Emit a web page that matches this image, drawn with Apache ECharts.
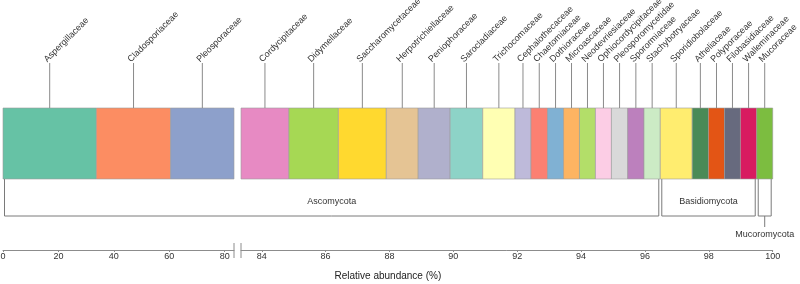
<!DOCTYPE html>
<html>
<head>
<meta charset="utf-8">
<script src="https://cdn.jsdelivr.net/npm/echarts@6/dist/echarts.min.js"></script>
<style>
html,body{margin:0;padding:0;background:#fff}
#chart{width:800px;height:284px}
</style>
</head>
<body>
<div id="chart"></div>
<script>
const families = [
    'Aspergillaceae','Cladosporiaceae','Pleosporaceae',
    'Cordycipitaceae','Didymellaceae','Saccharomycetaceae','Herpotrichiellaceae','Peniophoraceae',
    'Sarocladiaceae','Trichocomaceae','Cephalothecaceae','Chaetomiaceae','Dothioraceae',
    'Microascaceae','Neodevriesiaceae','Ophiocordycipitaceae','Pleosporomycetidae','Sporormiaceae',
    'Stachybotryaceae','Sporidiobolaceae','Atheliaceae','Polyporaceae','Filobasidiaceae',
    'Walleminaceae','Mucoraceae'
]
const abundance = [
    33.7, 26.8, 22.85,
    1.5, 1.55, 1.5, 1.0, 1.0,
    1.02, 1.01, 0.5, 0.52, 0.5,
    0.5, 0.5, 0.5, 0.51, 0.51,
    0.51, 1.0, 0.51, 0.5, 0.5,
    0.51, 0.5
]
const phylum = [
    'Ascomycota','Ascomycota','Ascomycota',
    'Ascomycota','Ascomycota','Ascomycota','Ascomycota','Ascomycota',
    'Ascomycota','Ascomycota','Ascomycota','Ascomycota','Ascomycota',
    'Ascomycota','Ascomycota','Ascomycota','Ascomycota','Ascomycota',
    'Ascomycota','Basidiomycota','Basidiomycota','Basidiomycota','Basidiomycota',
    'Basidiomycota','Mucoromycota'
]
const phylumNames = ['Ascomycota','Basidiomycota','Mucoromycota']
const leftTicks = [0,20,40,60,80]
const rightTicks = [84,86,88,90,92,94,96,98,100]
// how many families sit in the left (compressed) panel
const leftCount = 3

const palette = [
    '#66C2A5','#FC8D62','#8DA0CB',
    '#E78AC3','#A6D854','#FFD92F','#E5C494','#B0B0CC',
    '#8DD3C7','#FFFFB3','#BEBADA','#FB8072','#80B1D3',
    '#FDB462','#B3DE69','#FCCDE5','#D9D9D9','#BC80BD',
    '#CCEBC5','#FFED6F','#4A8A57','#E35515','#676A7E',
    '#D81B60','#7CBD40'
]
const font = 'Liberation Sans, Arial, sans-serif'

// cumulative start/end for every family
let acc = 0
const segments = abundance.map((v,i)=>{
    const s = acc
    acc += v
    return [s, acc, i]
})
const breakAt = segments[leftCount-1][1]

const chart = echarts.init(document.getElementById('chart'))

function renderSeg(params, api){
    const start = api.value(0)
    const end = api.value(1)
    const idx = api.value(2)
    const p0 = api.coord([start, 1])
    const p1 = api.coord([end, 0])
    const mid = (p0[0] + p1[0]) / 2
    const top = p0[1]
    return {
        type:'group',
        children:[
            {
                type:'rect',
                shape:{x:p0[0], y:top, width:p1[0]-p0[0], height:p1[1]-top},
                style:{fill:palette[idx], stroke:'#9a9a9a', lineWidth:0.6}
            },
            {
                type:'line',
                shape:{x1:mid, y1:top, x2:mid, y2:top-45},
                style:{stroke:'#8a8a8a', lineWidth:1}
            },
            {
                type:'text',
                x:mid-1, y:top-44,
                rotation:Math.PI/4,
                style:{text:families[idx], fontSize:9, fontFamily:font, fill:'#333', align:'left', verticalAlign:'bottom'}
            }
        ]
    }
}

function xAxisOf(grid, min, max, ticks){
    return {
        gridIndex:grid,
        type:'value',
        min:min,
        max:max,
        offset:71,
        position:'bottom',
        axisLine:{onZero:false, lineStyle:{color:'#8c8c8c', width:1}},
        axisTick:{show:true, length:2, customValues:ticks, lineStyle:{color:'#8c8c8c'}},
        axisLabel:{customValues:ticks, fontSize:9, color:'#333', margin:2, fontFamily:font},
        splitLine:{show:false}
    }
}

const option = {
    animation:false,
    grid:[
        {left:3, top:108, width:231, height:71, outerBoundsMode:'none', containLabel:false},
        {left:241, top:108, width:531.7, height:71, outerBoundsMode:'none', containLabel:false}
    ],
    xAxis:[
        xAxisOf(0, 0, breakAt, leftTicks),
        xAxisOf(1, breakAt, 100, rightTicks)
    ],
    yAxis:[
        {gridIndex:0, type:'value', min:0, max:1, show:false},
        {gridIndex:1, type:'value', min:0, max:1, show:false}
    ],
    series:[
        {
            type:'custom', xAxisIndex:0, yAxisIndex:0,
            renderItem:renderSeg, clip:false,
            data:segments.slice(0, leftCount)
        },
        {
            type:'custom', xAxisIndex:1, yAxisIndex:1,
            renderItem:renderSeg, clip:false,
            data:segments.slice(leftCount)
        }
    ]
}
chart.setOption(option)

// brackets, axis break marks and axis title, placed through the axes
const px = (v, isStart) => {
    const useLeft = isStart ? v < breakAt : v <= breakAt
    return chart.convertToPixel({xAxisIndex: useLeft ? 0 : 1}, v)
}
const barBottom = chart.convertToPixel({yAxisIndex:0}, 0)
const bracketY = barBottom + 37
const axisY = barBottom + 71
const graphics = []

phylumNames.forEach(name=>{
    const idx = segments.filter(s => phylum[s[2]] === name)
    const x0 = px(idx[0][0], true) + 1.5
    const x1 = px(idx[idx.length-1][1], false) - 1.5
    graphics.push({
        type:'polyline',
        shape:{points:[[x0, barBottom],[x0, bracketY],[x1, bracketY],[x1, barBottom]]},
        style:{stroke:'#7a7a7a', lineWidth:1, fill:null}
    })
    const cx = (x0 + x1) / 2
    if(x1 - x0 > 60){
        graphics.push({
            type:'text', x:cx, y:bracketY-14,
            style:{text:name, fontSize:9, fontFamily:font, fill:'#333', align:'center', verticalAlign:'middle'}
        })
    }else{
        graphics.push({
            type:'line',
            shape:{x1:cx, y1:bracketY, x2:cx, y2:bracketY+11},
            style:{stroke:'#7a7a7a', lineWidth:1}
        })
        graphics.push({
            type:'text', x:cx, y:bracketY+19,
            style:{text:name, fontSize:9, fontFamily:font, fill:'#333', align:'center', verticalAlign:'middle'}
        })
    }
})

const breakLeft = chart.convertToPixel({xAxisIndex:0}, breakAt)
const breakRight = chart.convertToPixel({xAxisIndex:1}, breakAt)
;[breakLeft, breakRight].forEach(x=>{
    graphics.push({
        type:'line',
        shape:{x1:x, y1:axisY-7, x2:x, y2:axisY+8},
        style:{stroke:'#8c8c8c', lineWidth:1}
    })
})

const axisStart = chart.convertToPixel({xAxisIndex:0}, 0)
const axisEnd = chart.convertToPixel({xAxisIndex:1}, 100)
graphics.push({
    type:'text', x:(axisStart + axisEnd) / 2, y:axisY + 26,
    style:{text:'Relative abundance (%)', fontSize:10, fontFamily:font, fill:'#222', align:'center', verticalAlign:'middle'}
})

chart.setOption({graphic:graphics})
</script>
</body>
</html>
